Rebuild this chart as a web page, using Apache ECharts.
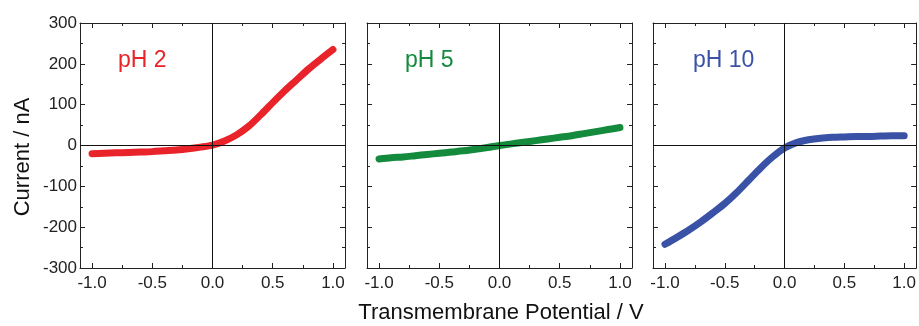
<!DOCTYPE html>
<html><head><meta charset="utf-8">
<script src="https://cdn.jsdelivr.net/npm/echarts@6/dist/echarts.min.js"></script>
<style>html,body{margin:0;padding:0;background:#fff}#c{width:919px;height:326px}</style>
</head><body><div id="c"></div>
<script>
var potential = [-1.0,-0.9,-0.8,-0.7,-0.6,-0.5,-0.4,-0.3,-0.2,-0.1,0.0,0.1,0.2,0.3,0.4,0.5,0.6,0.7,0.8,0.9,1.0];
var currentPH2  = [-20,-19,-18,-17,-16,-15,-13,-11,-8,-4,1,11,26,47,75,105,134,161,188,212,235];
var currentPH5  = [-33,-30,-28,-25,-22,-19,-16,-13,-9,-5,0,4,8,12,16,20,24,29,34,39,44];
var currentPH10 = [-242,-225,-207,-187,-165,-142,-115,-85,-55,-28,-6,7,14,18,20,21,22,22,23,24,24];
var panelLabels = ['pH 2','pH 5','pH 10'];
var xMajor = [-1.0,-0.5,0.0,0.5,1.0];
var xMinor = [-0.75,-0.25,0.25,0.75];

var colors = ['#e8232a','#138a3c','#3a52a6'];
var currents = [currentPH2, currentPH5, currentPH10];
var font = 'Liberation Sans, Arial, sans-serif';
var lefts = [80, 367, 653];
var W = 265, TOP = 23, H = 245;

var grid = [], xAxis = [], yAxis = [], series = [], graphic = [];
for (var i = 0; i < 3; i++) {
  grid.push({left: lefts[i], top: TOP, width: W, height: H, containLabel: false});
  var lineStyle = {color: '#222', width: 1};
  ['bottom','top'].forEach(function(pos){
    xAxis.push({gridIndex: i, type: 'value', position: pos, min: -1.1, max: 1.1,
      axisLine: {show: true, onZero: false, lineStyle: lineStyle},
      axisTick: {show: true, inside: true, length: 5, customValues: xMajor, lineStyle: lineStyle},
      axisLabel: {show: pos === 'bottom', customValues: xMajor, margin: 7, color: '#222', fontSize: 17, fontFamily: font,
        formatter: function(v){ return v.toFixed(1); }},
      splitLine: {show: false}});
    xAxis.push({gridIndex: i, type: 'value', position: pos, min: -1.1, max: 1.1,
      axisLine: {show: false, onZero: false},
      axisTick: {show: true, inside: true, length: 3, customValues: xMinor, lineStyle: lineStyle},
      axisLabel: {show: false}, splitLine: {show: false}});
  });
  ['left','right'].forEach(function(pos){
    yAxis.push({gridIndex: i, type: 'value', position: pos, min: -300, max: 300, interval: 100,
      axisLine: {show: true, onZero: false, lineStyle: lineStyle},
      axisTick: {show: true, inside: true, length: 5, lineStyle: lineStyle},
      minorTick: {show: true, splitNumber: 2, length: 3, lineStyle: lineStyle},
      axisLabel: {show: pos === 'left' && i === 0, margin: 3, color: '#222', fontSize: 17, fontFamily: font},
      splitLine: {show: false}, minorSplitLine: {show: false}});
  });
  var data = potential.map(function(v, k){ return [v, currents[i][k]]; });
  series.push({type: 'line', xAxisIndex: i*4, yAxisIndex: i*2, data: data, smooth: 0.3,
    showSymbol: false, symbol: 'none', animation: false,
    lineStyle: {color: colors[i], width: 7, cap: 'round', join: 'round'},
    markLine: {silent: true, symbol: 'none', animation: false, label: {show: false},
      lineStyle: {color: '#111', width: 1, type: 'solid'},
      data: [{xAxis: 0}, {yAxis: 0}]},
    z: 3});
}
var labelX = [118, 405, 693];
for (var j = 0; j < 3; j++) {
  graphic.push({type: 'text', left: labelX[j], top: 49, style: {text: panelLabels[j], fill: colors[j], fontSize: 23, fontFamily: font}});
}
graphic.push({type: 'text', x: 23, y: 157, rotation: Math.PI/2,
  style: {text: 'Current / nA', fill: '#111', fontSize: 22, fontFamily: font, align: 'center', verticalAlign: 'middle'}});
graphic.push({type: 'text', x: 501, y: 313, style: {text: 'Transmembrane Potential / V', fill: '#111', fontSize: 22, fontFamily: font, align: 'center', verticalAlign: 'middle'}});

var chart = echarts.init(document.getElementById('c'), null, {renderer: 'canvas'});
chart.setOption({animation: false, grid: grid, xAxis: xAxis, yAxis: yAxis, series: series, graphic: graphic});
</script></body></html>
